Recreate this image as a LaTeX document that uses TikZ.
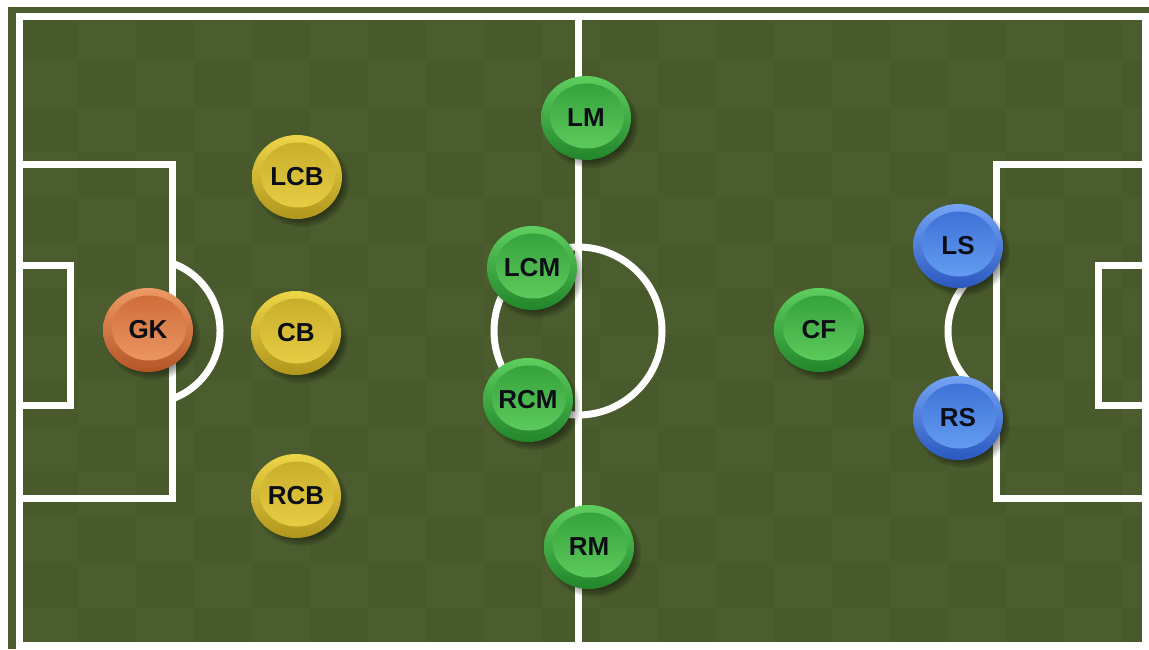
\documentclass[tikz,border=0pt]{standalone}
\usepackage{fontspec}
\setmainfont{Liberation Sans}
\usetikzlibrary{shapes.geometric}
\definecolor{pitch}{HTML}{4B5D2E}
\definecolor{pitchdark}{HTML}{48592B}
\definecolor{labeltext}{HTML}{0C0E16}
% ring and disc colours for each line of the team
\definecolor{gktop}{HTML}{EE9A66}
\definecolor{gkbot}{HTML}{B45526}
\definecolor{gkintop}{HTML}{CF6E3A}
\definecolor{gkinbot}{HTML}{EA9560}
\definecolor{deftop}{HTML}{EDD548}
\definecolor{defbot}{HTML}{B0961C}
\definecolor{defintop}{HTML}{C9AE2A}
\definecolor{definbot}{HTML}{E6CD44}
\definecolor{midtop}{HTML}{5ECE5E}
\definecolor{midbot}{HTML}{22852A}
\definecolor{midintop}{HTML}{36A23C}
\definecolor{midinbot}{HTML}{5DCA5D}
\definecolor{atttop}{HTML}{74A4F4}
\definecolor{attbot}{HTML}{2A58C0}
\definecolor{attintop}{HTML}{3E72D8}
\definecolor{attinbot}{HTML}{649CF0}
\tikzset{
  token/.style={ellipse, minimum width=90pt, minimum height=84pt, inner sep=0pt},
  pitchline/.style={draw=white, line width=7pt},
}
\newcommand{\player}[4]{%
  \foreach \r in {0,2,4,6,8}
    \fill[black, opacity=0.1] (#2+5,#3+6) ellipse ({39+\r pt} and {36+\r pt});
  \node[token, top color=#4top, bottom color=#4bot] (#1) at (#2,#3) {};
  \shade[top color=#4intop, bottom color=#4inbot] ([xshift=1pt, yshift=2pt]#1.center) ellipse (37pt and 32.5pt);
  \node[font=\fontsize{26}{26}\selectfont\bfseries, text=labeltext] (#1-txt) at (#1) {#1};
}

\begin{document}
\begin{tikzpicture}[x=1pt, y=-1pt]
    \useasboundingbox (0,0) rectangle (1149,650);
    \fill[white] (0,0) rectangle (1149,650);
    \fill[pitch] (8,7) rectangle (1149,649);
    % faint turf squares
    \begin{scope}
      \clip (19,16.5) rectangle (1145.5,645);
      \foreach \i in {-1,...,19} {
        \foreach \j in {-1,...,14} {
          \pgfmathtruncatemacro\odd{mod(\i+\j+40,2)}
          \ifnum\odd=0
            \fill[pitchdark] (20+58*\i,16+45.5*\j) rectangle ++(58,45.5);
          \fi
        }
      }
    \end{scope}

    % markings
    \draw[pitchline] (19,16.5) rectangle (1145.5,645);
    \draw[pitchline] (578,16.5) -- (578,645);
    \draw[pitchline] (578,331) circle (84);
    \draw[pitchline] (19,165) -| (172,498) -- (19,498);
    \draw[pitchline] (19,265) -| (70,405) -- (19,405);
    \draw[pitchline] (148,331) ++(-70.5:72) arc[start angle=-70.5, end angle=70.5, radius=72];
    \draw[pitchline] (1145.5,165) -| (996,498) -- (1145.5,498);
    \draw[pitchline] (1145.5,265) -| (1098,405) -- (1145.5,405);
    \draw[pitchline] (1020,331) ++(109.5:72) arc[start angle=109.5, end angle=250.5, radius=72];

    % players
    \player{GK}{148}{330}{gk}
    \player{LCB}{297}{177}{def}
    \player{CB}{296}{333}{def}
    \player{RCB}{296}{496}{def}
    \player{LM}{586}{118}{mid}
    \player{LCM}{532}{268}{mid}
    \player{RCM}{528}{400}{mid}
    \player{RM}{589}{547}{mid}
    \player{CF}{819}{330}{mid}
    \player{LS}{958}{246}{att}
    \player{RS}{958}{418}{att}
\end{tikzpicture}
\end{document}
